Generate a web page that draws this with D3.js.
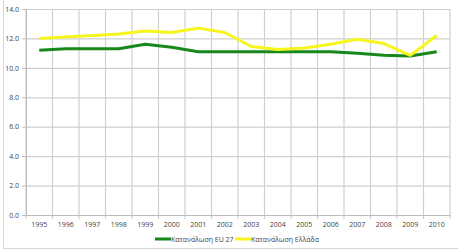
<!DOCTYPE html>
<html>
<head>
<meta charset="utf-8">
<script src="https://cdn.jsdelivr.net/npm/d3@7"></script>
<style>
  body { margin: 0; background: #fff; }
  text { font-family: "Open Sans", "DejaVu Sans", sans-serif; fill: #444; }
</style>
</head>
<body>
<div id="chart"></div>
<script>
var years = ["1995","1996","1997","1998","1999","2000","2001","2002","2003","2004","2005","2006","2007","2008","2009","2010"];
var eu27 = [11.2, 11.3, 11.3, 11.3, 11.6, 11.4, 11.1, 11.1, 11.1, 11.1, 11.1, 11.1, 11.0, 10.85, 10.8, 11.1];
var greece = [12.0, 12.1, 12.2, 12.3, 12.5, 12.4, 12.7, 12.4, 11.45, 11.25, 11.35, 11.6, 11.95, 11.65, 10.85, 12.2];
var yTicks = [0, 2, 4, 6, 8, 10, 12, 14];
var seriesNames = ["Κατανάλωση EU 27", "Κατανάλωση Ελλάδα"];
var seriesColors = ["#17881a", "#f7f51c"];

var svg = d3.select("#chart").append("svg")
    .attr("width", 458)
    .attr("height", 250);

var margin = {top: 9, right: 8, bottom: 35, left: 26};
var width = 458 - margin.left - margin.right;
var height = 250 - margin.top - margin.bottom;

// outer chart border
svg.append("rect")
    .attr("x", 3.5).attr("y", -2)
    .attr("width", 470).attr("height", 250.5)
    .attr("fill", "none")
    .attr("stroke", "#d6d6d6");

var x = d3.scaleBand().domain(years).range([0, width]);
var y = d3.scaleLinear().domain([0, 14]).range([height, 0]);

var g = svg.append("g").attr("transform", "translate(" + margin.left + "," + margin.top + ")");

// vertical gridlines at category boundaries
var bounds = years.map(function(d){ return x(d); }).concat([width]);
g.append("g").selectAll("line")
    .data(bounds)
    .enter().append("line")
    .attr("x1", function(d){ return d; })
    .attr("x2", function(d){ return d; })
    .attr("y1", 0)
    .attr("y2", height + 4)
    .attr("stroke", "#cfcfcf")
    .attr("stroke-width", 1.2);

// horizontal gridlines
g.append("g")
    .call(d3.axisLeft(y).tickValues(yTicks).tickSize(-width).tickFormat(""))
    .call(function(s){ s.select(".domain").remove(); })
    .selectAll("line")
    .attr("stroke", "#cfcfcf")
    .attr("stroke-width", 1.2);

// y axis
var yAxis = g.append("g")
    .call(d3.axisLeft(y).tickValues(yTicks).tickSize(4).tickPadding(3).tickFormat(d3.format(".1f")));
yAxis.select(".domain").attr("stroke", "#bdbdbd");
yAxis.selectAll(".tick line").attr("stroke", "#bdbdbd");
yAxis.selectAll("text").attr("font-size", "7px").attr("fill", "#555");

// x axis
var xAxis = g.append("g")
    .attr("transform", "translate(0," + height + ")")
    .call(d3.axisBottom(x).tickSize(0).tickPadding(7));
xAxis.select(".domain").attr("stroke", "#bdbdbd");
xAxis.selectAll("text").attr("font-size", "7px").attr("fill", "#555");

var line = d3.line()
    .x(function(d, i){ return x(years[i]) + x.bandwidth() / 2; })
    .y(function(d){ return y(d); });

[eu27, greece].forEach(function(s, i) {
  g.append("path")
      .datum(s)
      .attr("fill", "none")
      .attr("stroke", seriesColors[i])
      .attr("stroke-width", 3)
      .attr("stroke-linejoin", "round")
      .attr("d", line);
});

// legend
var legendX = [155, 235];
var legend = svg.append("g").attr("transform", "translate(0,239)");
seriesNames.forEach(function(name, i) {
  legend.append("line")
      .attr("x1", legendX[i]).attr("x2", legendX[i] + 16)
      .attr("y1", 0).attr("y2", 0)
      .attr("stroke", seriesColors[i])
      .attr("stroke-width", 3);
  legend.append("text")
      .attr("x", legendX[i] + 16)
      .attr("y", 2.5)
      .attr("font-size", "7px")
      .attr("fill", "#555")
      .text(name);
});
</script>
</body>
</html>
